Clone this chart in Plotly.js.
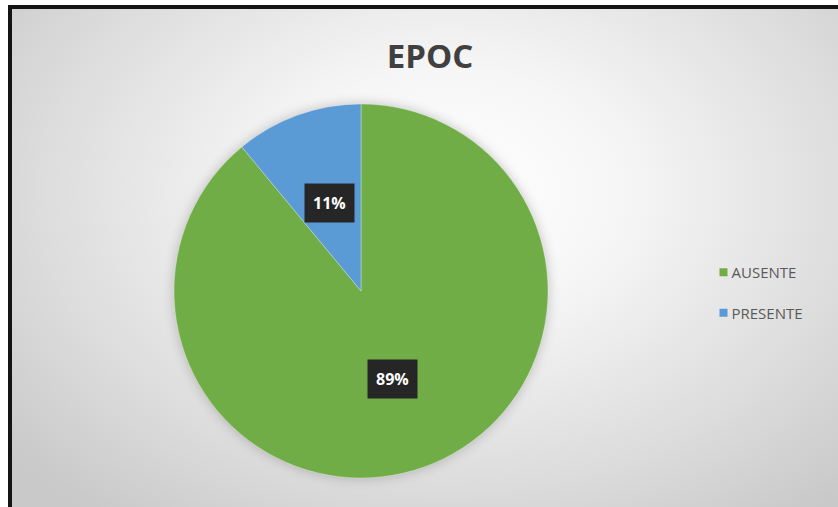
<!DOCTYPE html>
<html><head><meta charset="utf-8">
<script src="https://cdn.plot.ly/plotly-3.0.1.min.js"></script>
<style>
html,body{margin:0;padding:0;background:#fff;width:838px;height:507px;overflow:hidden;}
#frame{position:absolute;left:8px;top:5px;width:840px;height:510px;border-left:4px solid #141414;border-top:4px solid #141414;
background:radial-gradient(ellipse 68% 80% at 52% 36%, #ffffff 0%, #f6f6f6 30%, #dcdcdc 72%, #c9c9c9 100%);}
#chart{position:absolute;left:0;top:0;width:838px;height:507px;}
.pielayer .trace{filter:drop-shadow(0px 0px 6px rgba(0,0,0,0.22));}
</style></head><body>
<div id="frame"></div><div id="chart"></div>
<script>
const categories = ["AUSENTE", "PRESENTE"];
const values = [89, 11];
const colors = ["#70AD47", "#5B9BD5"];
const titleText = "EPOC";

const W = 838, H = 507;
const dom = {x: [174/W, 548/W], y: [1 - 478/H, 1 - 104/H]};

const total = values.reduce((a, b) => a + b, 0);
const pctLabels = values.map(v => Math.round(v / total * 100) + "%");

const pie = {
  type: "pie",
  labels: categories,
  values: values,
  marker: {colors: colors, line: {color: "rgba(255,255,255,0.5)", width: 0.6}},
  sort: false,
  direction: "clockwise",
  rotation: 0,
  textinfo: "none",
  hoverinfo: "label+percent",
  domain: dom,
  showlegend: false
};

const legendTraces = categories.map((c, i) => ({
  type: "scatter", mode: "markers", x: [null], y: [null],
  name: c, legendgroup: "g" + i,
  marker: {symbol: "square", size: 8, color: colors[i]},
  hoverinfo: "skip", xaxis: "x", yaxis: "y"
}));

// label annotations placed from data: mid angle of each slice, half radius
const Rpx = Math.min((dom.x[1] - dom.x[0]) * W, (dom.y[1] - dom.y[0]) * H) / 2;
const cx = (dom.x[0] + dom.x[1]) / 2, cy = (dom.y[0] + dom.y[1]) / 2;
let cum = 0;
const annotations = values.map((v, i) => {
  const mid = (cum + v / 2) / total * 2 * Math.PI;
  cum += v;
  return {
    xref: "paper", yref: "paper",
    x: cx + 0.5 * Rpx * Math.sin(mid) / W,
    y: cy + 0.5 * Rpx * Math.cos(mid) / H,
    text: "<b>" + pctLabels[i] + "</b>",
    showarrow: false,
    font: {family: "Open Sans, DejaVu Sans, sans-serif", size: 16, color: "#ffffff"},
    bgcolor: "#262626",
    borderpad: 8,
    xanchor: "center", yanchor: "middle"
  };
});

const layout = {
  width: W, height: H,
  margin: {l: 0, r: 0, t: 0, b: 0},
  paper_bgcolor: "rgba(0,0,0,0)",
  plot_bgcolor: "rgba(0,0,0,0)",
  title: {
    text: "<b>" + titleText + "</b>",
    x: 430 / W, xanchor: "center",
    y: 1 - 56 / H, yanchor: "middle",
    font: {family: "Open Sans, sans-serif", size: 33, color: "#404040"}
  },
  xaxis: {visible: false, domain: [0, 0.01]},
  yaxis: {visible: false, domain: [0, 0.01]},
  showlegend: true,
  legend: {
    x: 703.5 / W, xanchor: "left",
    y: 1 - 256 / H, yanchor: "top",
    bgcolor: "rgba(0,0,0,0)",
    font: {family: "Open Sans, sans-serif", size: 15, color: "#595959"},
    tracegroupgap: 18,
    itemwidth: 30
  },
  annotations: annotations
};

Plotly.newPlot("chart", [pie].concat(legendTraces), layout, {displayModeBar: false, staticPlot: true}).then(() => {
  document.querySelectorAll("#chart .legend .legendtext").forEach(t => t.setAttribute("x", 28));
});
</script>
</body></html>
